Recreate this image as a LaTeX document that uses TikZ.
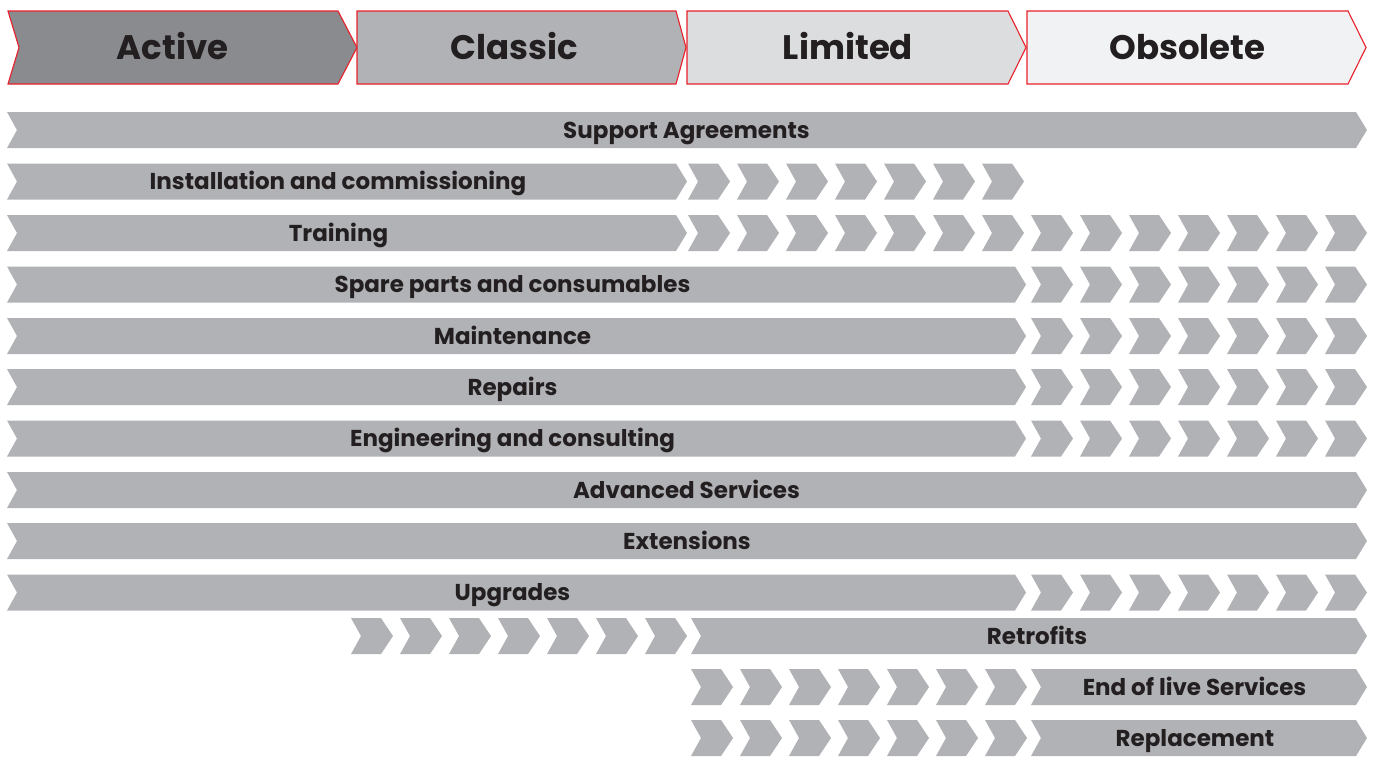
\documentclass[tikz,border=0pt]{standalone}
\usepackage{fontspec}
\setmainfont{Poppins}
\definecolor{barfill}{HTML}{B1B2B6}
\definecolor{activefill}{HTML}{8A8B8F}
\definecolor{classicfill}{HTML}{B1B2B6}
\definecolor{limitedfill}{HTML}{DCDDDF}
\definecolor{obsoletefill}{HTML}{F1F2F4}
\definecolor{abbred}{HTML}{E8202A}
\definecolor{txt}{HTML}{231F20}
% main bar: L, R (flat end), yc
\newcommand{\mybar}[3]{\fill[barfill] (#1,#3-18) -- (#2,#3-18) -- (#2+11,#3) -- (#2,#3+18) -- (#1,#3+18) -- (#1+10,#3) -- cycle;}
% small chevron: L, yc
\newcommand{\mysmall}[2]{\fill[barfill] (#1,#2-18) -- (#1+30,#2-18) -- (#1+42,#2) -- (#1+30,#2+18) -- (#1,#2+18) -- (#1+10,#2) -- cycle;}
\tikzset{
  headbox/.style={fill=#1, draw=abbred, line width=1.1pt, line join=miter},
  headtext/.style={anchor=base, inner sep=0pt, text=txt, font=\fontsize{34}{37}\selectfont\bfseries},
  bartext/.style={anchor=base, inner sep=0pt, text=txt, font=\fontsize{23}{26}\selectfont\bfseries}
}
\begin{document}
\begin{tikzpicture}[x=1pt,y=-1pt]
\useasboundingbox (0,0) rectangle (1376,756);
% headers
\draw[headbox=activefill] (8,11) -- (338,11) -- (357,47.5) -- (338,84) -- (8,84) -- (19,47.5) -- cycle;
\draw[headbox=classicfill] (357,11) -- (676,11) -- (686,47.5) -- (676,84) -- (357,84) -- cycle;
\draw[headbox=limitedfill] (687,11) -- (1008,11) -- (1026,47.5) -- (1008,84) -- (687,84) -- cycle;
\draw[headbox=obsoletefill] (1027,11) -- (1348,11) -- (1366,47.5) -- (1348,84) -- (1027,84) -- cycle;
\node[headtext] (hactive) at (172.5,59.5) {Active};
\node[headtext] (hclassic) at (514.5,59.5) {Classic};
\node[headtext] (hlimited) at (848,59.5) {Limited};
\node[headtext] (hobsolete) at (1187.5,59.5) {Obsolete};
% row 0
\mybar{7}{1356}{130}
% row 1
\mybar{7}{676}{181.5}
\foreach \k in {0,...,6} {\mysmall{688+49*\k}{181.5}}
% row 2
\mybar{7}{676}{233}
\foreach \k in {0,...,13} {\mysmall{688+49*\k}{233}}
% rows 3-6, 9
\foreach \yc in {284.5,336,387,438.5,592.5} {
  \mybar{7}{1015}{\yc}
  \foreach \k in {7,...,13} {\mysmall{688+49*\k}{\yc}}
}
% rows 7, 8
\mybar{7}{1356}{490}
\mybar{7}{1356}{541}
% row 10
\foreach \k in {0,...,6} {\mysmall{351+49*\k}{636}}
\mybar{691}{1356}{636}
% rows 11, 12
\foreach \yc in {687,738} {
  \foreach \k in {0,...,6} {\mysmall{691+49*\k}{\yc}}
  \mybar{1031}{1356}{\yc}
}
% labels
\node[bartext] (l0) at (686.5,138) {Support Agreements};
\node[bartext] (l1) at (338,189.5) {Installation and commissioning};
\node[bartext] (l2) at (338.5,241) {Training};
\node[bartext] (l3) at (512.5,292.5) {Spare parts and consumables};
\node[bartext] (l4) at (512.5,344) {Maintenance};
\node[bartext] (l5) at (512.5,395) {Repairs};
\node[bartext] (l6) at (512.5,446.5) {Engineering and consulting};
\node[bartext] (l7) at (686.5,498) {Advanced Services};
\node[bartext] (l8) at (687,549) {Extensions};
\node[bartext] (l9) at (512.5,600.5) {Upgrades};
\node[bartext] (l10) at (1037,644) {Retrofits};
\node[bartext] (l11) at (1194.5,695) {End of live Services};
\node[bartext] (l12) at (1195,746) {Replacement};
\end{tikzpicture}
\end{document}
